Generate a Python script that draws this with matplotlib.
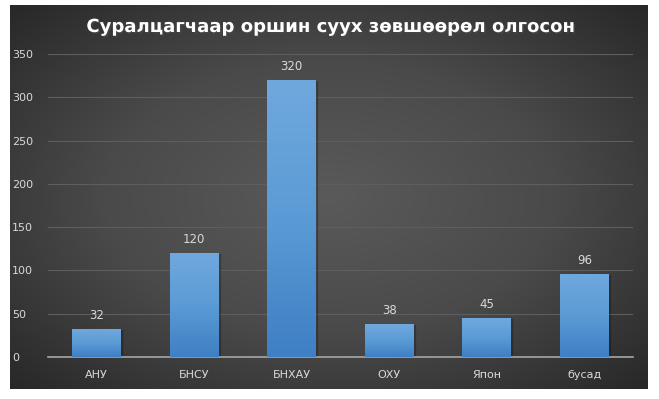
import numpy as np
import matplotlib
matplotlib.use('Agg')
import matplotlib.pyplot as plt
from matplotlib.colors import LinearSegmentedColormap
import matplotlib.patheffects as pe

categories = ['АНУ', 'БНСУ', 'БНХАУ', 'ОХУ', 'Япон', 'бусад']
values = [32, 120, 320, 38, 45, 96]
title = 'Суралцагчаар оршин суух зөвшөөрөл олгосон'

fig = plt.figure(figsize=(6.59, 3.99), dpi=100)
fig.patch.set_facecolor('white')

# dark radial background panel
bg = fig.add_axes([10/659, 1-389/399, 638/659, 384/399])
bg.set_axis_off()
yy, xx = np.mgrid[-1:1:200j, -1:1:300j]
r = np.sqrt(xx**2 + yy**2) / np.sqrt(2)
bgcmap = LinearSegmentedColormap.from_list('bg', ['#5a5a5a', '#4a4a4a', '#282828'])
bg.imshow(r, cmap=bgcmap, aspect='auto', extent=[0, 1, 0, 1], vmin=0, vmax=1)
bg.set_xlim(0, 1)
bg.set_ylim(0, 1)

ax = fig.add_axes([48/659, 1-357/399, 585/659, 303/399])
ax.patch.set_alpha(0)
x = np.arange(len(categories))
bars = ax.bar(x, values, width=0.5, color='none', zorder=3)

grad = np.linspace(0, 1, 100).reshape(-1, 1)
barcmap = LinearSegmentedColormap.from_list('bar', ['#3f7fc4', '#5b9bd5', '#70a8de'])
for b, v in zip(bars, values):
    x0, y0 = b.get_x(), b.get_y()
    w, h = b.get_width(), b.get_height()
    # soft shadow
    ax.add_patch(plt.Rectangle((x0 + 0.012, y0), w, h - 1.0, color='black', alpha=0.18, zorder=2))
    im = ax.imshow(grad, cmap=barcmap, aspect='auto', origin='lower',
                   extent=[x0, x0 + w, y0, y0 + h], zorder=3)
    im.set_clip_path(b)
    ax.text(x0 + w/2, v + 8, str(v), ha='center', va='bottom', color='#d9d9d9', fontsize=8.5)

ax.set_xlim(-0.5, len(categories) - 0.5)
ax.set_ylim(0, 350)
ax.set_yticks(np.arange(0, 351, 50))
ax.set_xticks(x)
ax.set_xticklabels(categories)
ax.grid(axis='y', color='#5e5e5e', linewidth=0.8, zorder=0)
ax.set_axisbelow(True)
ax.tick_params(colors='#d9d9d9', labelsize=8, length=0)
ax.tick_params(axis='x', pad=9)
for s in ['top', 'right', 'left']:
    ax.spines[s].set_visible(False)
ax.spines['bottom'].set_color('#a6a6a6')
ax.spines['bottom'].set_linewidth(1.2)
for lbl in ax.get_yticklabels():
    lbl.set_horizontalalignment('left')
ax.tick_params(axis='y', pad=26)

fig.text(329/659, 1-27/399, title, ha='center', va='center', color='white',
         fontsize=13, fontweight='bold',
         path_effects=[pe.withSimplePatchShadow(offset=(1.2, -1.2), alpha=0.5)])

fig.savefig('out.png', dpi=100, facecolor='white')
